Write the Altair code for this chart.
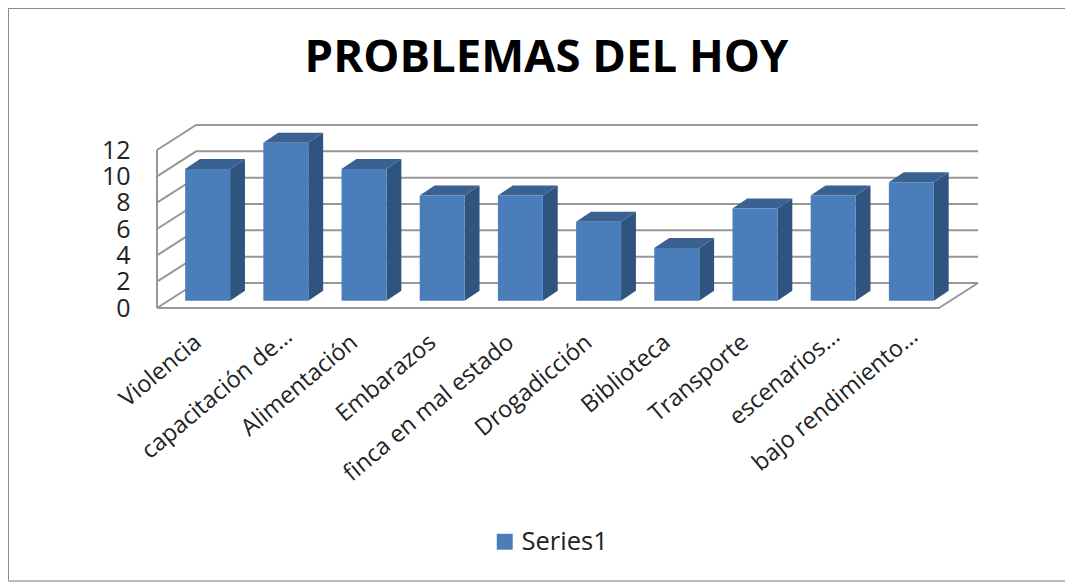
import altair as alt
import pandas as pd

categories = ["Violencia", "capacitación de…", "Alimentación", "Embarazos", "finca en mal estado",
              "Drogadicción", "Biblioteca", "Transporte", "escenarios…", "bajo rendimiento…"]
values = [10, 12, 10, 8, 8, 6, 4, 7, 8, 9]
ticks = [0, 2, 4, 6, 8, 10, 12]
series_name = "Series1"
title_text = "PROBLEMAS DEL HOY"

FONT = "Open Sans"
FRONT, SIDE, TOP = "#4A7EBB", "#2F5480", "#3A6190"
GRID = "#979797"

# 3D projection of the chart box, in data units
WALL_DX, WALL_DY = 0.5, 1.9
BAR_DX, BAR_DY = 0.19, 0.76
BAR_X0, BAR_W, BAR_BASE = 0.36, 0.575, 0.55

x_scale = alt.Scale(domain=[0, 10.5], nice=False, zero=False)
y_scale = alt.Scale(domain=[0, 13.9], nice=False, zero=False)

grid_rows = []
for t in ticks:
    grid_rows += [
        dict(k=f"g{t}", o=0, x=0, y=t),
        dict(k=f"g{t}", o=1, x=WALL_DX, y=t + WALL_DY),
        dict(k=f"g{t}", o=2, x=10 + WALL_DX, y=t + WALL_DY),
    ]
grid_rows += [dict(k="left", o=0, x=0, y=0), dict(k="left", o=1, x=0, y=ticks[-1])]
grid_rows += [dict(k="floor", o=0, x=0, y=0), dict(k="floor", o=1, x=10, y=0),
              dict(k="floor", o=2, x=10 + WALL_DX, y=WALL_DY)]

idx = list(range(len(categories)))
front = pd.DataFrame([dict(s=series_name, x=i + BAR_X0, x2=i + BAR_X0 + BAR_W, y=BAR_BASE, y2=BAR_BASE + v)
                      for i, v in zip(idx, values)])
side_rows, top_rows = [], []
for i, v in zip(idx, values):
    r = i + BAR_X0 + BAR_W
    side_rows += [dict(k=i, x=r, y=BAR_BASE + v, y2=BAR_BASE),
                  dict(k=i, x=r + BAR_DX, y=BAR_BASE + v + BAR_DY, y2=BAR_BASE + BAR_DY)]
    l = i + BAR_X0
    top_rows += [dict(k=i, y=BAR_BASE + v, x=l, x2=r),
                 dict(k=i, y=BAR_BASE + v + BAR_DY, x=l + BAR_DX, x2=r + BAR_DX)]

label_expr = "[" + ",".join(repr(c) for c in categories) + "][floor(datum.value)]"
truncated = [i for i, c in enumerate(categories) if c.endswith("…")]
is_truncated = f"indexof({truncated}, floor(datum.value)) >= 0"

x_axis = alt.Axis(values=[i + 0.52 for i in idx], labelExpr=label_expr, labelAngle=-40, labelAlign="right",
                  labelBaseline="middle", labelFont=FONT, labelFontSize=23.5, labelColor="#222222",
                  labelPadding={"condition": {"test": is_truncated, "value": 25}, "value": 31},
                  labelOffset={"condition": {"test": is_truncated, "value": 13}, "value": 0},
                  labelOverlap=False, labelBound=False, labelFlush=False,
                  domain=False, ticks=False, grid=False, title=None, labelLimit=300)
y_axis = alt.Axis(values=ticks, labelFont=FONT, labelFontSize=25, labelColor="#222222", labelPadding=27,
                  labelOverlap=False, labelBound=False, labelFlush=False,
                  domain=False, ticks=False, grid=False, title=None, format="d")

one = pd.DataFrame({"a": [1]})
frame_top = alt.Chart(one).mark_rule(color="#8c8c8c", strokeWidth=2).encode(
    x=alt.value(-149), x2=alt.value(908), y=alt.value(-117))
frame_left = alt.Chart(one).mark_rule(color="#8c8c8c", strokeWidth=2).encode(
    x=alt.value(-149), y=alt.value(-117), y2=alt.value(457))
frame_bottom = alt.Chart(one).mark_rule(color="#bbbbbb", strokeWidth=2).encode(
    x=alt.value(-149), x2=alt.value(908), y=alt.value(456))

grid = alt.Chart(pd.DataFrame(grid_rows)).mark_line(color=GRID, strokeWidth=2).encode(
    x=alt.X("x:Q", scale=x_scale, axis=x_axis),
    y=alt.Y("y:Q", scale=y_scale, axis=y_axis),
    detail="k:N", order="o:Q")

side = alt.Chart(pd.DataFrame(side_rows)).mark_area(color=SIDE, orient="vertical").encode(
    x=alt.X("x:Q", scale=x_scale, axis=x_axis), y=alt.Y("y:Q", scale=y_scale, axis=y_axis), y2="y2:Q", detail="k:N")
top = alt.Chart(pd.DataFrame(top_rows)).mark_area(color=TOP, orient="horizontal").encode(
    y=alt.Y("y:Q", scale=y_scale, axis=y_axis), x=alt.X("x:Q", scale=x_scale, axis=x_axis), x2="x2:Q", detail="k:N")
bars = alt.Chart(front).mark_rect().encode(
    x=alt.X("x:Q", scale=x_scale, axis=x_axis), x2="x2:Q",
    y=alt.Y("y:Q", scale=y_scale, axis=y_axis), y2="y2:Q",
    color=alt.Color("s:N", scale=alt.Scale(domain=[series_name], range=[FRONT]),
                    legend=alt.Legend(orient="none", legendX=335, legendY=404, title=None, symbolType="square",
                                      symbolSize=255, symbolStrokeWidth=0, labelFont=FONT, labelFontSize=25.5,
                                      labelColor="#222222", labelOffset=4)))

chart = alt.layer(frame_top, frame_left, frame_bottom, grid, side, top, bars).properties(
    width=821, height=183,
    padding={"left": 149, "top": 117, "right": 87, "bottom": 274},
    autosize=alt.AutoSizeParams(type="none"),
    background="white",
    title=alt.TitleParams(title_text, font=FONT, fontSize=45.5, fontWeight="bold", color="black",
                          anchor="middle", dx=-21, offset=0, dy=74),
).configure_view(stroke=None).configure_axis(labelOverlap=False)

chart.save("out.html", embed_options={"renderer": "svg", "actions": False})
